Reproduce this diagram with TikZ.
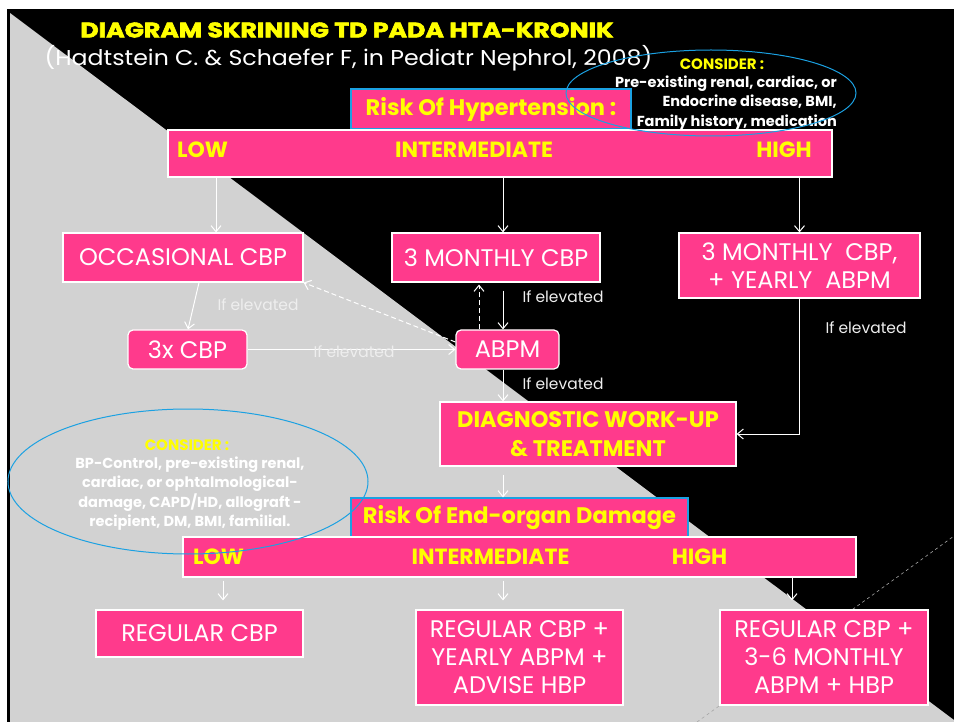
\documentclass[tikz,border=0pt]{standalone}
\usepackage{graphicx}
\usepackage{fontspec}
\setmainfont{Poppins}
\newfontfamily\heavyfont[FakeBold=2.5]{Poppins}
\usetikzlibrary{arrows.meta}
\definecolor{pinkbox}{HTML}{FF3A8C}
\definecolor{bggray}{HTML}{D2D2D2}
\definecolor{ybold}{HTML}{FFFF00}
\definecolor{eblue}{HTML}{1BA1E2}
\definecolor{lbl}{HTML}{EEEEEE}
\tikzset{
  pbox/.style={rectangle, fill=pinkbox, draw=white, line width=1.2pt, text=white, inner sep=0pt, align=center, font=\fontsize{24}{28}\selectfont},
  rbox/.style={pbox, rounded corners=5pt},
  riskbox/.style={rectangle, fill=pinkbox, draw=eblue, line width=1.2pt, text=ybold, inner sep=0pt, font=\bfseries\fontsize{22.5}{24}\selectfont},
  ytxt/.style={text=ybold, inner sep=0pt, font=\bfseries\fontsize{22}{29}\selectfont, align=center},
  arr/.style={draw=white, line width=1pt, -{Straight Barb[length=6pt,width=10pt]}},
  darr/.style={arr, dashed, dash pattern=on 5pt off 3pt},
  elev/.style={text=lbl, inner sep=0pt, font=\fontsize{15.5}{17}\selectfont},
  eline/.style={draw=eblue, line width=1pt},
  ctitle/.style={text=ybold, inner sep=0pt, font=\bfseries\fontsize{15}{17}\selectfont},
  cbody/.style={text=white, inner sep=0pt, font=\bfseries\fontsize{14.5}{19.3}\selectfont},
}
\begin{document}
\begin{tikzpicture}[x=1pt,y=-1pt]
\useasboundingbox (0,0) rectangle (954,722);
\fill[white] (0,0) rectangle (954,722);
\fill[black] (7,9) rectangle (954,722);
\fill[bggray] (10,13) -- (954,720) -- (954,722) -- (10,722) -- cycle;
\draw[gray!70, dashed, line width=0.6pt] (697,722) -- (954,536);

% title
\node[text=ybold, inner sep=0pt, font=\heavyfont\bfseries\fontsize{21}{24}\selectfont] (title) at (347,30) {\scalebox{1.2}[1]{DIAGRAM SKRINING TD PADA HTA-KRONIK}};
\node[text=white, inner sep=0pt, font=\fontsize{21.5}{24}\selectfont] (sub) at (348.5,58) {\scalebox{1.1}[1]{(Hadtstein C. \& Schaefer F, in Pediatr Nephrol, 2008)}};

% first level
\node[riskbox, minimum width=280pt, minimum height=40pt] (riskH) at (491,109) {Risk Of Hypertension :};
\node[pbox, minimum width=664pt, minimum height=47pt] (bar1) at (500,153.5) {};
\node[ytxt, anchor=west] (low1) at (177,150) {LOW};
\node[ytxt] (int1) at (474,150) {INTERMEDIATE};
\node[ytxt] (high1) at (784,150) {HIGH};

\node[pbox, minimum width=240pt, minimum height=49pt] (occ) at (183,257.5) {OCCASIONAL CBP};
\node[pbox, minimum width=208pt, minimum height=49pt] (m3) at (496,257.5) {3 MONTHLY CBP};
\node[pbox, minimum width=241pt, minimum height=65pt] (m3y) at (799.5,265.5) {3 MONTHLY\ \ CBP,\\+ YEARLY\ \ ABPM};
\node[rbox, minimum width=119pt, minimum height=39pt] (cbp3) at (187.5,349.5) {3x CBP};
\node[rbox, minimum width=103pt, minimum height=39pt] (abpm) at (507.5,349.5) {ABPM};
\node[pbox, text=ybold, font=\bfseries\fontsize{22.5}{29}\selectfont, minimum width=296pt, minimum height=64pt] (diag) at (588,434) {DIAGNOSTIC WORK-UP\\\& TREATMENT};

% arrows level 1
\draw[arr] (bar1.south -| 216,0) -- (occ.north -| 216,0);
\draw[arr] (bar1.south -| 503,0) -- (m3.north -| 503,0);
\draw[arr] (bar1.south -| m3y.north) -- (m3y.north);
\draw[arr] (occ.south -| 199,0) -- (cbp3.north -| 188,0);
\draw[arr] (cbp3.east) -- (abpm.west);
\draw[darr] (abpm.west |- 0,342) -- (occ.south east);
\draw[darr] (abpm.north -| 479,0) -- ([yshift=-2pt]m3.south -| 479,0);
\draw[arr] ([yshift=-8pt]m3.south -| 503,0) -- (abpm.north -| 503,0);
\draw[arr] (abpm.south -| 503,0) -- (diag.north -| 503,0);
\draw[arr] (m3y.south) |- (diag.east);

\node[elev] (l1) at (258,305) {If elevated};
\node[elev] (l2) at (354,352) {If elevated};
\node[elev] (l3) at (563,297) {If elevated};
\node[elev] (l4) at (563,384) {If elevated};
\node[elev] (l5) at (866,328) {If elevated};

% second level
\node[riskbox, minimum width=337pt, minimum height=39pt] (riskE) at (519.5,517.5) {Risk Of End-organ Damage};
\node[pbox, minimum width=673pt, minimum height=40pt] (bar2) at (519.5,557) {};
\node[ytxt, anchor=west] (low2) at (193,557) {LOW};
\node[ytxt] (int2) at (490.5,557) {INTERMEDIATE};
\node[ytxt] (high2) at (699.5,557) {HIGH};
\draw[arr] ([yshift=-8pt]diag.south -| 503,0) -- (riskE.north -| 503,0);

\node[pbox, minimum width=207pt, minimum height=47pt] (reg1) at (199.5,633.5) {REGULAR CBP};
\node[pbox, minimum width=207pt, minimum height=95pt] (reg2) at (519.5,657.5) {REGULAR CBP +\\YEARLY ABPM +\\ADVISE HBP};
\node[pbox, minimum width=208pt, minimum height=95pt] (reg3) at (824,657.5) {REGULAR CBP +\\3-6 MONTHLY\\ABPM + HBP};

\draw[arr] ([yshift=-3pt]bar2.south -| 223,0) -- ([yshift=9pt]reg1.north -| 223,0);
\draw[arr] ([yshift=-3pt]bar2.south -| 503,0) -- ([yshift=9pt]reg2.north -| 503,0);
\draw[arr] (bar2.south -| 792,0) -- ([yshift=9pt]reg3.north -| 792,0);

% consider ellipses
\node[ctitle] (c1t) at (722,64) {CONSIDER :};
\node[cbody, align=right, anchor=east] (c1b) at (837,103) {Pre-existing renal, cardiac, or\\Endocrine disease, BMI,\\Family history, medication};
\draw[eline] (711,93) ellipse [x radius=145, y radius=43];

\node[ctitle] (c2t) at (187,445) {CONSIDER :};
\node[cbody, align=center] (c2b) at (190,493.5) {BP-Control, pre-existing renal,\\cardiac, or ophtalmological-\\damage, CAPD/HD, allograft -\\recipient, DM, BMI, familial.};
\draw[eline] (188,481.5) ellipse [x radius=180, y radius=72.5];
\end{tikzpicture}
\end{document}
